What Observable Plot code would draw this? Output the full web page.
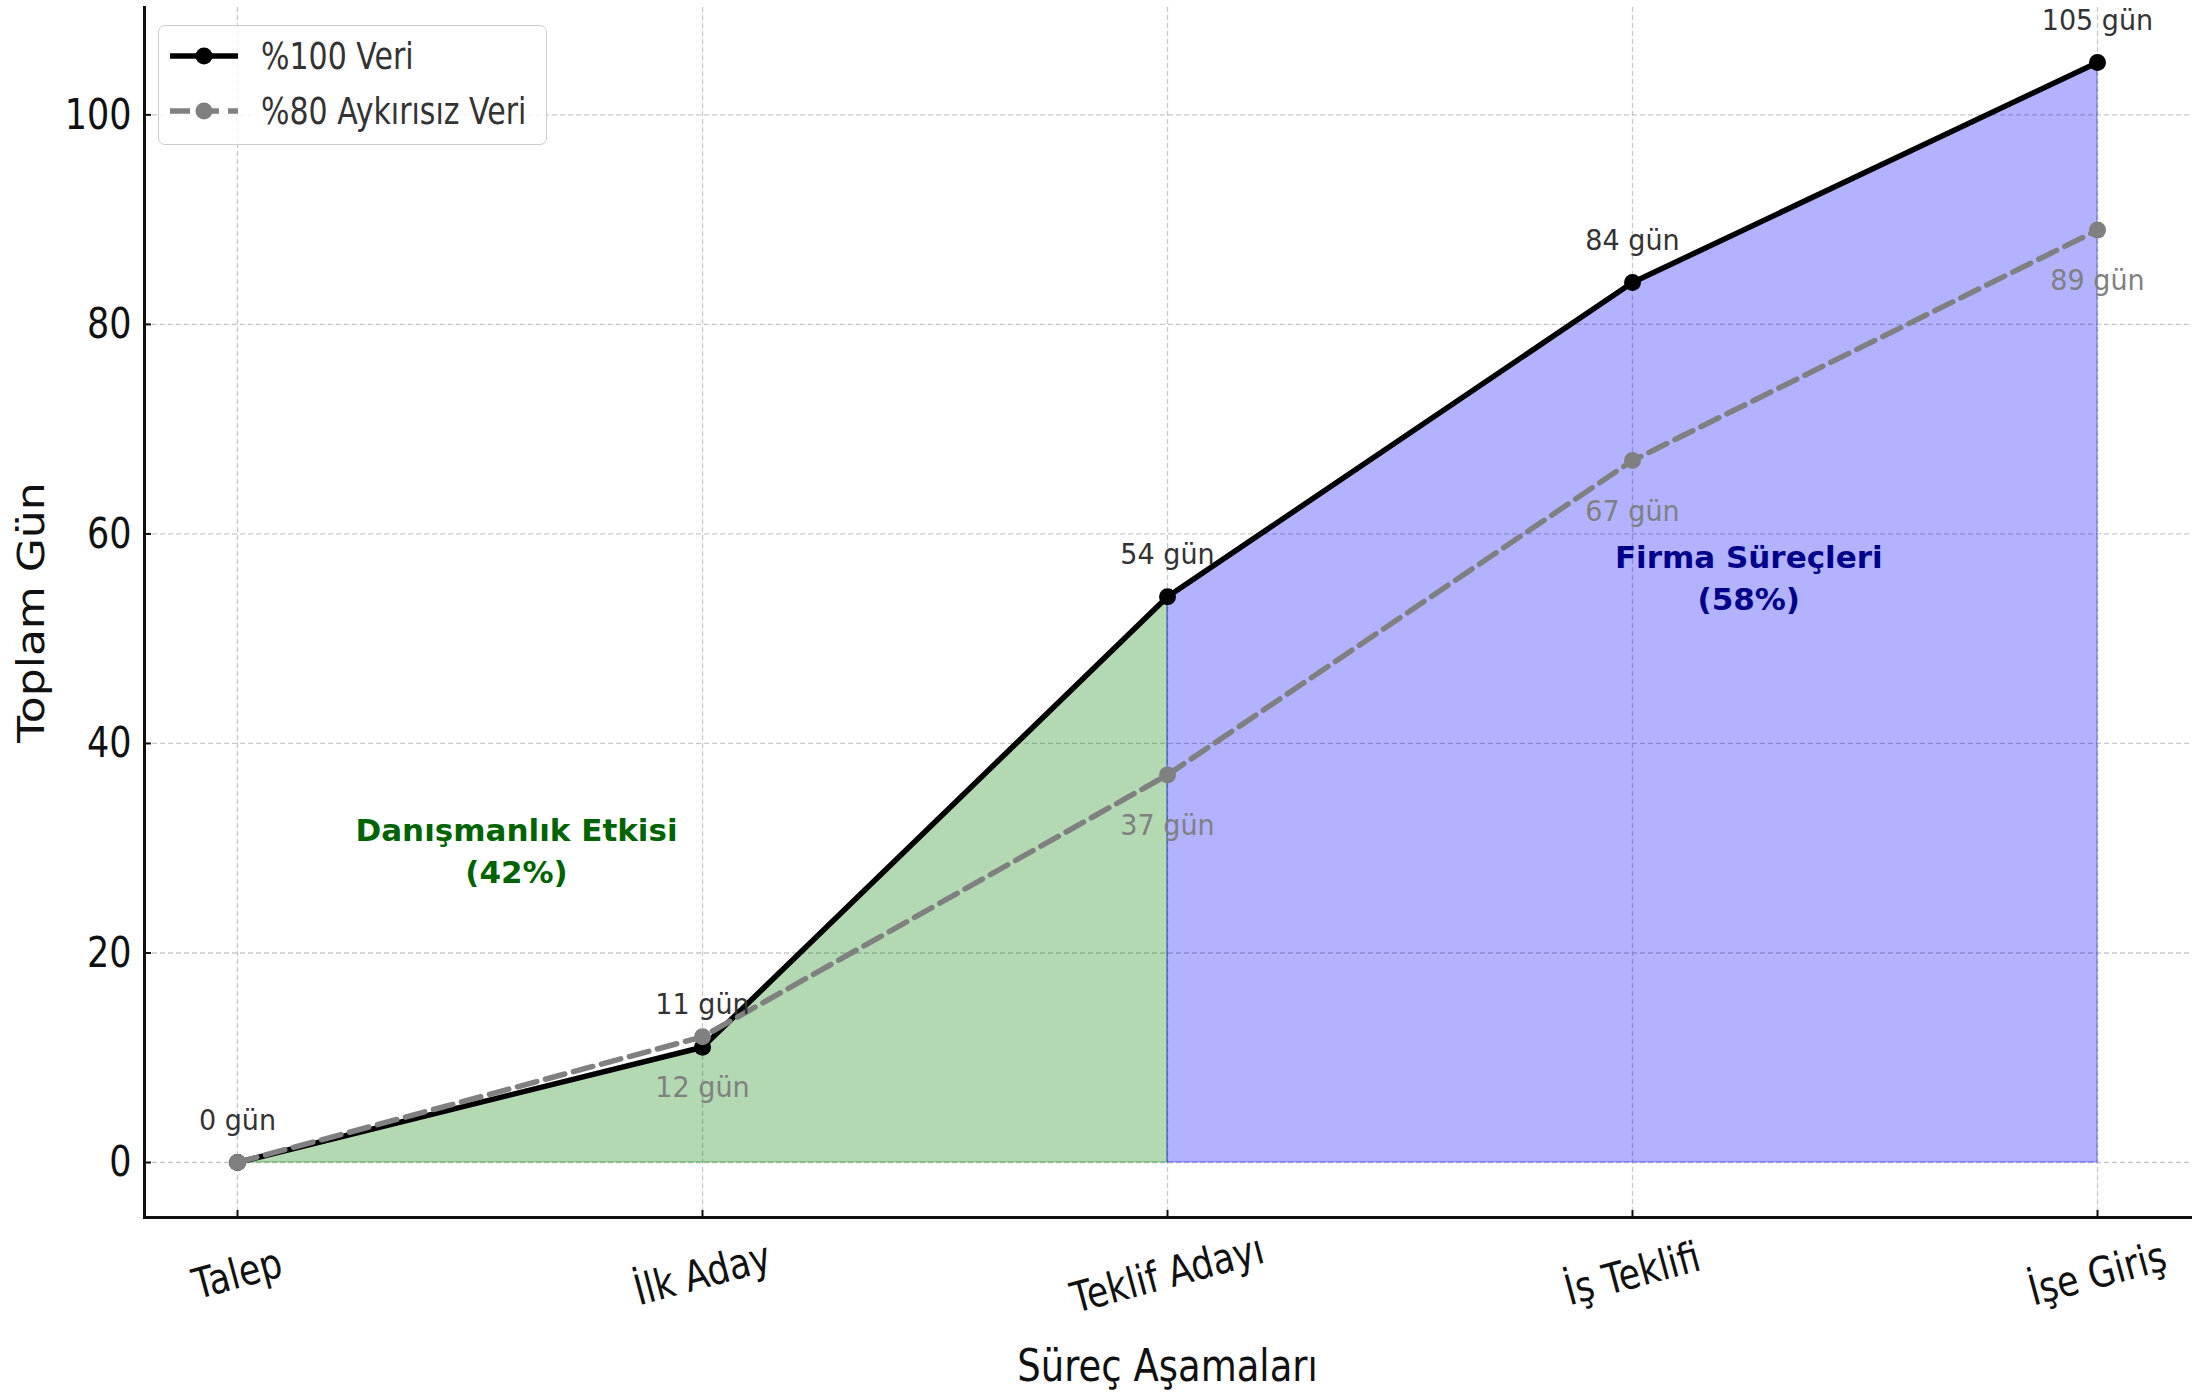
<!DOCTYPE html>
<html>
<head>
<meta charset="utf-8">
<script src="https://cdn.jsdelivr.net/npm/d3@7"></script>
<script src="https://cdn.jsdelivr.net/npm/@observablehq/plot@0.6"></script>
<style>
html, body { margin: 0; padding: 0; background: #ffffff; }
#wrap { position: relative; width: 2195px; height: 1400px; font-family: "DejaVu Sans", sans-serif; overflow: hidden; }
#wrap svg { display: block; max-width: none; }
#legend { position: absolute; left: 158px; top: 25px; width: 389px; height: 120px; box-sizing: border-box;
  border: 1.5px solid #cccccc; border-radius: 7px; background: rgba(255,255,255,0.8); }
#legend .row { position: absolute; left: 0; height: 40px; display: flex; align-items: center; }
#legend .lab { font-size: 30px; color: #333333; transform: scaleY(1.22); transform-origin: left center; white-space: nowrap; margin-left: 22px; }
</style>
</head>
<body>
<div id="wrap"></div>
<script>
// ---- data ----
const stages = ["Talep", "İlk Aday", "Teklif Adayı", "İş Teklifi", "İşe Giriş"];
const fullDays = [0, 11, 54, 84, 105];
const filteredDays = [0, 12, 37, 67, 89];
const seriesNames = ["%100 Veri", "%80 Aykırısız Veri"];
const yTicks = [0, 20, 40, 60, 80, 100];
const regionTexts = ["Danışmanlık Etkisi\n(42%)", "Firma Süreçleri\n(58%)"];
const regionX = [0.6, 3.25];
const regionY = [30, 56];
const splitIndex = 2;
const xTitle = "Süreç Aşamaları";
const yTitle = "Toplam Gün";

// ---- tables ----
const rows = stages.map((s, i) => ({i, stage: s, full: fullDays[i], filtered: filteredDays[i]}));
const regions = regionTexts.map((t, k) => ({text: t, x: regionX[k], y: regionY[k], color: k === 0 ? "#006400" : "#00008b"}));

const W = 2195, H = 1400;
const mL = 144, mR = 5, mT = 7, mB = 183;
const frameW = W - mL - mR, frameH = H - mT - mB;

const gridStyle = {stroke: "#b0b0b0", strokeOpacity: 0.7, strokeWidth: 1.3, strokeDasharray: "5,3"};

const chart = Plot.plot({
  width: W, height: H,
  marginLeft: mL, marginRight: mR, marginTop: mT, marginBottom: mB,
  style: {fontFamily: "DejaVu Sans", background: "#ffffff"},
  x: {domain: [-0.2, 4.2], axis: null},
  y: {domain: [-5.25, 110.25]},
  marks: [
    Plot.gridY(yTicks, gridStyle),
    Plot.gridX(rows.map(d => d.i), gridStyle),
    Plot.areaY(rows.filter(d => d.i <= splitIndex), {x: "i", y: "full", fill: "green", fillOpacity: 0.3, stroke: "green", strokeOpacity: 0.3, strokeWidth: 1.5}),
    Plot.areaY(rows.filter(d => d.i >= splitIndex), {x: "i", y: "full", fill: "blue", fillOpacity: 0.3, stroke: "blue", strokeOpacity: 0.3, strokeWidth: 1.5}),
    Plot.line(rows, {x: "i", y: "full", stroke: "black", strokeWidth: 5.5}),
    Plot.dot(rows, {x: "i", y: "full", r: 8.5, fill: "black", stroke: "none"}),
    Plot.line(rows, {x: "i", y: "filtered", stroke: "#808080", strokeWidth: 5.5, strokeDasharray: "20,9"}),
    Plot.dot(rows, {x: "i", y: "filtered", r: 8.5, fill: "#808080", stroke: "none"}),
    Plot.text(rows, {x: "i", y: "full", text: d => `${d.full} gün`, dy: -42, fill: "#333333", fontSize: 27, lineAnchor: "middle"}),
    Plot.text(rows.filter(d => d.i > 0), {x: "i", y: "filtered", text: d => `${d.filtered} gün`, dy: 51, fill: "#808080", fontSize: 27, lineAnchor: "middle"}),
    Plot.text(regions, {x: "x", y: "y", text: "text", fill: "color", fontSize: 31, fontWeight: "bold", lineAnchor: "middle", lineHeight: 1.36}),
    // inward ticks
    Plot.tickY(yTicks, {y: d => d, insetRight: frameW - 7, stroke: "#111", strokeWidth: 2}),
    Plot.tickX(rows, {x: "i", insetTop: frameH - 7, stroke: "#111", strokeWidth: 2}),
    // y tick labels
    Plot.axisY(yTicks, {tickSize: 0, tickPadding: 13, fontSize: 35, fill: "#111", label: null, tickFormat: d => String(d)}),
    // x tick labels
    Plot.text(rows, {x: "i", text: "stage", frameAnchor: "bottom", dy: 57, rotate: -15, fontSize: 35, fill: "#111", textAnchor: "middle", lineAnchor: "middle"}),
    // axis titles
    Plot.text([xTitle], {text: d => d, frameAnchor: "bottom", dy: 149, fontSize: 37, fill: "#111", textAnchor: "middle", lineAnchor: "middle"}),
    Plot.text([yTitle], {text: d => d, frameAnchor: "left", dx: -112, rotate: -90, fontSize: 37, fill: "#111", textAnchor: "middle", lineAnchor: "middle"}),
    // spines
    Plot.frame({anchor: "left", stroke: "#111", strokeWidth: 3}),
    Plot.frame({anchor: "bottom", stroke: "#111", strokeWidth: 3})
  ]
});

const wrap = document.getElementById("wrap");
wrap.appendChild(chart);

// stretch texts to match the reference's (vertically stretched) proportions
function stretchText(t, sx, sy) {
  const tr = t.getAttribute("transform");
  if (tr) {
    t.setAttribute("transform", tr + ` scale(${sx},${sy})`);
  } else {
    const x = +(t.getAttribute("x") || 0), y = +(t.getAttribute("y") || 0);
    t.setAttribute("transform", `translate(${x},${y}) scale(${sx},${sy}) translate(${-x},${-y})`);
  }
}
const stageSet = new Set(stages);
chart.querySelectorAll("text").forEach(t => {
  const s = t.textContent;
  if (t.parentNode.getAttribute("aria-label") === "y-axis tick label") stretchText(t, 1, 1.22);
  else if (stageSet.has(s)) stretchText(t, 1, 1.2);
  else if (s === xTitle) stretchText(t, 1, 1.2);
  else if (s === yTitle) stretchText(t, 1.19, 1);
  else if (/ gün$/.test(s)) stretchText(t, 1, 1.06);
});

// legend overlay
const legendStyles = [
  {color: "black", dash: null},
  {color: "#808080", dash: "20,9"}
];
const legend = d3.select(wrap).append("div").attr("id", "legend");
seriesNames.forEach((name, k) => {
  const row = legend.append("div").attr("class", "row").style("top", (k === 0 ? 10 : 65) + "px").style("left", "10px");
  const s = row.append("svg").attr("width", 70).attr("height", 40);
  s.append("line").attr("x1", 1).attr("x2", 69).attr("y1", 20).attr("y2", 20)
    .attr("stroke", legendStyles[k].color).attr("stroke-width", 5.5)
    .attr("stroke-dasharray", legendStyles[k].dash);
  s.append("circle").attr("cx", 35).attr("cy", 20).attr("r", 8.5).attr("fill", legendStyles[k].color);
  row.append("span").attr("class", "lab").text(name);
});
</script>
</body>
</html>
